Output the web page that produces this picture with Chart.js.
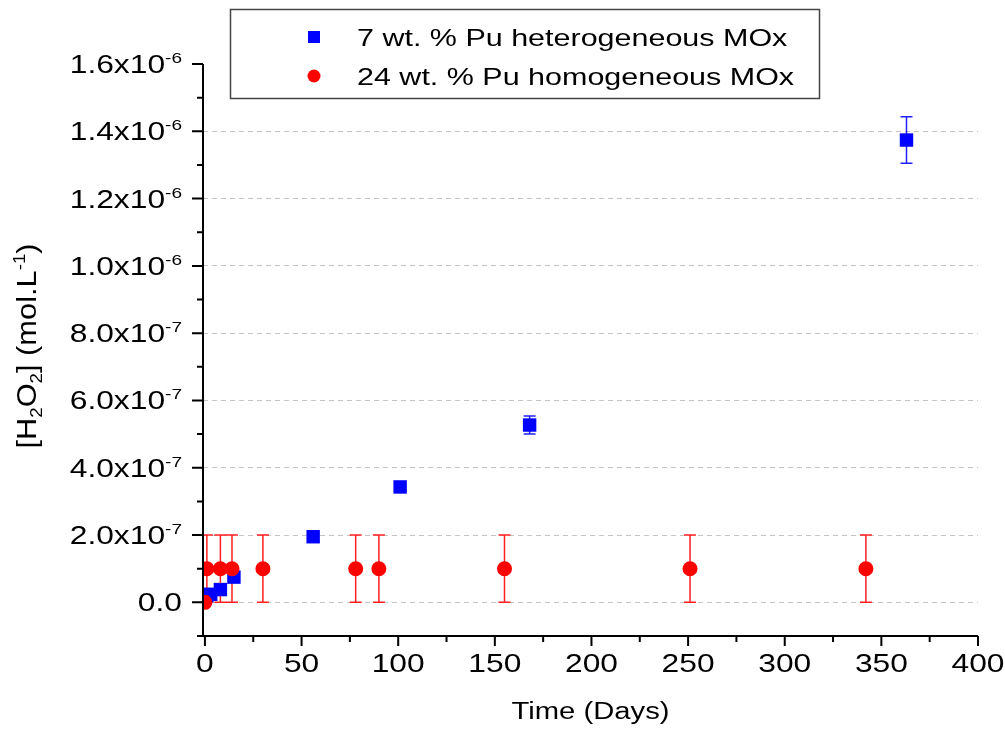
<!DOCTYPE html>
<html>
<head>
<meta charset="utf-8">
<script src="https://cdn.jsdelivr.net/npm/chart.js@4.4.1/dist/chart.umd.min.js"></script>
<style>
  html, body { margin: 0; padding: 0; background: #fff; }
  #wrap { width: 1005px; height: 734px; }
</style>
</head>
<body>
<div id="wrap"><canvas id="chart" width="1005" height="734"></canvas></div>
<script>
// 7 wt. % Pu heterogeneous MOx
const BLUE_DAYS = [1, 3, 8, 15, 56, 101, 168, 363];
const BLUE_H2O2 = [2.0e-8, 2.4e-8, 3.8e-8, 7.5e-8, 1.95e-7, 3.43e-7, 5.27e-7, 1.374e-6];
const BLUE_ERR  = [0, 0, 0, 0, 0, 0, 0.27e-7, 0.69e-7];

// 24 wt. % Pu homogeneous MOx
const RED_DAYS = [0, 1, 8, 14, 30, 78, 90, 155, 251, 342];
const RED_H2O2 = [0, 1e-7, 1e-7, 1e-7, 1e-7, 1e-7, 1e-7, 1e-7, 1e-7, 1e-7];
const RED_ERR  = [0, 1e-7, 1e-7, 1e-7, 1e-7, 1e-7, 1e-7, 1e-7, 1e-7, 1e-7];

const SERIES_NAMES = ['7 wt. % Pu heterogeneous MOx', '24 wt. % Pu homogeneous MOx'];

// axes
const X_MAJOR = [0, 50, 100, 150, 200, 250, 300, 350, 400];
const X_MINOR = [25, 75, 125, 175, 225, 275, 325, 375];
const Y_MAJOR = [0, 2e-7, 4e-7, 6e-7, 8e-7, 1e-6, 1.2e-6, 1.4e-6, 1.6e-6];
const Y_MINOR = [-1e-7, 1e-7, 3e-7, 5e-7, 7e-7, 9e-7, 1.1e-6, 1.3e-6, 1.5e-6];
const Y_LABELS = [
  ['0.0', ''], ['2.0x10', '-7'], ['4.0x10', '-7'], ['6.0x10', '-7'], ['8.0x10', '-7'],
  ['1.0x10', '-6'], ['1.2x10', '-6'], ['1.4x10', '-6'], ['1.6x10', '-6']
];
const Y_GRID = [0, 2e-7, 4e-7, 6e-7, 8e-7, 1e-6, 1.2e-6, 1.4e-6];

const FONT = '"Liberation Sans", Arial, Helvetica, sans-serif';
const STRETCH = 1.27;  // glyphs in the original are wider than Arial

// draw a list of text runs [{t, size, dy}] one after another
function runsWidth(ctx, runs, sx) {
  let w = 0;
  for (const r of runs) {
    ctx.font = r.size + 'px ' + FONT;
    w += ctx.measureText(r.t).width * sx;
  }
  return w;
}
function drawRuns(ctx, runs, x, y, align, sx) {
  const w = runsWidth(ctx, runs, sx);
  let cx = align === 'right' ? x - w : align === 'center' ? x - w / 2 : x;
  ctx.fillStyle = '#000';
  ctx.textAlign = 'left';
  ctx.textBaseline = 'alphabetic';
  for (const r of runs) {
    ctx.font = r.size + 'px ' + FONT;
    ctx.save();
    ctx.translate(cx, y + (r.dy || 0));
    ctx.scale(sx, 1);
    ctx.fillText(r.t, 0, 0);
    ctx.restore();
    cx += ctx.measureText(r.t).width * sx;
  }
}

function errorBars(chart, dsIndex, errs, color) {
  const ctx = chart.ctx;
  const xs = chart.scales.x, ys = chart.scales.y;
  const data = chart.data.datasets[dsIndex].data;
  ctx.save();
  ctx.strokeStyle = color;
  ctx.lineWidth = 1.5;
  data.forEach((p, i) => {
    if (!errs[i]) return;
    const px = xs.getPixelForValue(p.x);
    const top = ys.getPixelForValue(p.y + errs[i]);
    const bot = ys.getPixelForValue(p.y - errs[i]);
    ctx.beginPath();
    ctx.moveTo(px, top); ctx.lineTo(px, bot);
    ctx.moveTo(px - 6, top); ctx.lineTo(px + 6, top);
    ctx.moveTo(px - 6, bot); ctx.lineTo(px + 6, bot);
    ctx.stroke();
  });
  ctx.restore();
}

const decorPlugin = {
  id: 'decor',
  beforeDatasetsDraw(chart) {
    errorBars(chart, 0, BLUE_ERR, '#2020ff');
    errorBars(chart, 1, RED_ERR, '#ff2020');
  },
  afterDraw(chart) {
    const ctx = chart.ctx;
    const xs = chart.scales.x, ys = chart.scales.y;
    const area = chart.chartArea;
    ctx.save();
    ctx.strokeStyle = '#000';
    ctx.lineWidth = 2;

    // axis lines
    ctx.beginPath();
    ctx.moveTo(area.left, area.top);
    ctx.lineTo(area.left, area.bottom);
    ctx.lineTo(area.right, area.bottom);
    ctx.stroke();

    // tick marks
    ctx.beginPath();
    X_MAJOR.forEach(v => { const p = xs.getPixelForValue(v); ctx.moveTo(p, area.bottom); ctx.lineTo(p, area.bottom + 10); });
    X_MINOR.forEach(v => { const p = xs.getPixelForValue(v); ctx.moveTo(p, area.bottom); ctx.lineTo(p, area.bottom + 6); });
    Y_MAJOR.forEach(v => { const p = ys.getPixelForValue(v); ctx.moveTo(area.left, p); ctx.lineTo(area.left - 11, p); });
    Y_MINOR.forEach(v => { const p = ys.getPixelForValue(v); ctx.moveTo(area.left, p); ctx.lineTo(area.left - 6, p); });
    ctx.stroke();

    // tick labels
    X_MAJOR.forEach(v => {
      drawRuns(ctx, [{ t: String(v), size: 25 }], xs.getPixelForValue(v), area.bottom + 36, 'center', STRETCH);
    });
    Y_MAJOR.forEach((v, i) => {
      const runs = [{ t: Y_LABELS[i][0], size: 25 }];
      if (Y_LABELS[i][1]) runs.push({ t: Y_LABELS[i][1], size: 15, dy: -10 });
      drawRuns(ctx, runs, 182, ys.getPixelForValue(v) + 9, 'right', STRETCH);
    });

    // axis titles
    drawRuns(ctx, [{ t: 'Time (Days)', size: 23 }], (area.left + area.right) / 2, 719, 'center', STRETCH);
    ctx.save();
    ctx.translate(36, 346);
    ctx.rotate(-Math.PI / 2);
    drawRuns(ctx, [
      { t: '[H', size: 28 }, { t: '2', size: 17, dy: 6 },
      { t: 'O', size: 28 }, { t: '2', size: 17, dy: 6 },
      { t: '] (mol.L', size: 28 }, { t: '-1', size: 17, dy: -11 },
      { t: ')', size: 28 }
    ], 0, 0, 'center', 1.1);
    ctx.restore();

    // legend
    ctx.lineWidth = 1.5;
    ctx.strokeStyle = '#444';
    ctx.strokeRect(230.5, 9.5, 589, 89);
    ctx.fillStyle = '#0000ff';
    ctx.fillRect(308, 31, 12, 12);
    ctx.fillStyle = '#ff0000';
    ctx.beginPath();
    ctx.arc(314, 76, 6.5, 0, Math.PI * 2);
    ctx.fill();
    drawRuns(ctx, [{ t: SERIES_NAMES[0], size: 24 }], 357, 46, 'left', STRETCH);
    drawRuns(ctx, [{ t: SERIES_NAMES[1], size: 24 }], 357, 85, 'left', STRETCH);
    ctx.restore();
  }
};

new Chart(document.getElementById('chart'), {
  type: 'scatter',
  data: {
    datasets: [
      {
        label: SERIES_NAMES[0],
        data: BLUE_DAYS.map((d, i) => ({ x: d, y: BLUE_H2O2[i] })),
        pointStyle: 'rect',
        pointRadius: 9.5,
        backgroundColor: '#0000ff',
        borderWidth: 0,
        order: 1,
      },
      {
        label: SERIES_NAMES[1],
        data: RED_DAYS.map((d, i) => ({ x: d, y: RED_H2O2[i] })),
        pointStyle: 'circle',
        pointRadius: 7.5,
        backgroundColor: '#ff0000',
        borderWidth: 0,
        order: 0,
      },
    ],
  },
  options: {
    responsive: false,
    animation: false,
    events: [],
    layout: { autoPadding: false, padding: { left: 203, right: 27, top: 64, bottom: 98 } },
    plugins: { legend: { display: false }, tooltip: { enabled: false } },
    scales: {
      x: {
        type: 'linear',
        min: -1,
        max: 400,
        ticks: { display: false },
        grid: { display: false, drawTicks: false },
        border: { display: false },
        afterFit(s) { s.height = 0; },
      },
      y: {
        type: 'linear',
        min: -1e-7,
        max: 1.6e-6,
        ticks: { display: false },
        afterBuildTicks(s) { s.ticks = Y_GRID.map(v => ({ value: v })); },
        grid: { color: '#c4c4c4', lineWidth: 1, drawTicks: false },
        border: { display: false, dash: [5, 4] },
        afterFit(s) { s.width = 0; },
      },
    },
  },
  plugins: [decorPlugin],
});
</script>
</body>
</html>
